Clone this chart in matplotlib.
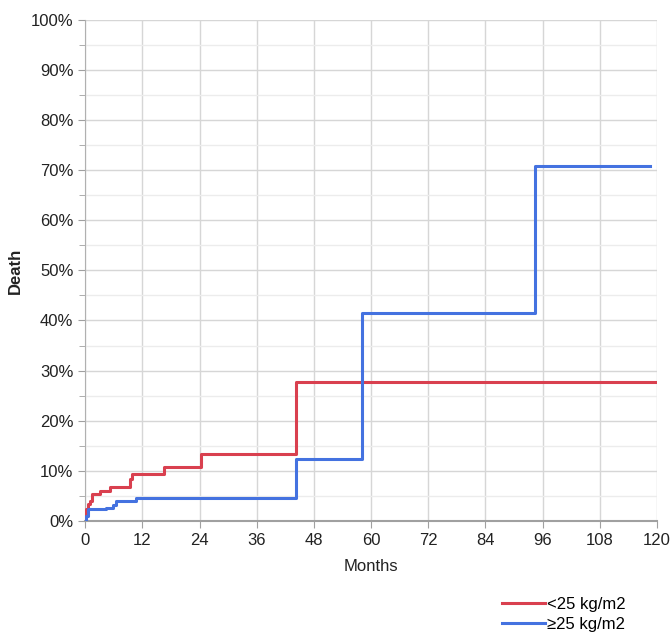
import matplotlib
matplotlib.use('Agg')
import matplotlib.pyplot as plt
from matplotlib.ticker import MultipleLocator, FuncFormatter

# step data (months, cumulative death %)
red_months = [0, 0.2, 0.5, 0.9, 1.5, 3.0, 5.1, 9.3, 9.8, 16.6, 24.4, 44.2, 120]
red_death = [0, 2.3, 3.3, 4.0, 5.3, 6.0, 6.7, 8.3, 9.3, 10.7, 13.3, 27.7, 27.7]
blue_months = [0, 0.2, 0.5, 4.4, 5.8, 6.5, 10.7, 44.3, 58.0, 94.4, 118.6]
blue_death = [0, 1.0, 2.3, 2.5, 3.2, 4.0, 4.5, 12.3, 41.5, 70.8, 70.8]
series_labels = ['<25 kg/m2', '\u226525 kg/m2']
x_ticks = list(range(0, 121, 12))

plt.rcParams['font.family'] = ['Liberation Sans', 'DejaVu Sans']

fig = plt.figure(figsize=(6.71, 6.43), dpi=100)
ax = fig.add_axes([0.127, 0.19, 0.852, 0.779])

ax.step(red_months, red_death, where='post', color='#d9404f', lw=2.2,
        label=series_labels[0], zorder=3)
ax.step(blue_months, blue_death, where='post', color='#4472e0', lw=2.2,
        label=series_labels[1], zorder=3)

ax.set_xlim(0, 120)
ax.set_ylim(0, 100)
ax.set_xticks(x_ticks)
ax.yaxis.set_major_locator(MultipleLocator(10))
ax.yaxis.set_minor_locator(MultipleLocator(5))
ax.yaxis.set_major_formatter(FuncFormatter(lambda v, p: '%d%%' % v))

ax.grid(True, which='major', color='#d6d6d6', lw=1.0)
ax.grid(True, which='minor', axis='y', color='#ececec', lw=1.0)
ax.set_axisbelow(True)

for side in ['top', 'right']:
    ax.spines[side].set_visible(False)
ax.spines['left'].set_color('#b0b0b0')
ax.spines['bottom'].set_color('#a0a0a0')
ax.spines['bottom'].set_linewidth(1.5)
ax.tick_params(which='both', colors='#a0a0a0', labelcolor='#222222',
               labelsize=12, length=5)
ax.tick_params(which='minor', length=4)

ax.set_xlabel('Months', fontsize=12, color='#222222', labelpad=8)
ax.set_ylabel('Death', fontsize=12, color='#222222', fontweight='bold',
              labelpad=6)

fig.legend(loc='upper left', bbox_to_anchor=(0.735, 0.084), frameon=False,
           fontsize=12, handlelength=2.6, handletextpad=0.1,
           labelspacing=0.3, borderpad=0)

fig.savefig('out.png', dpi=100)
